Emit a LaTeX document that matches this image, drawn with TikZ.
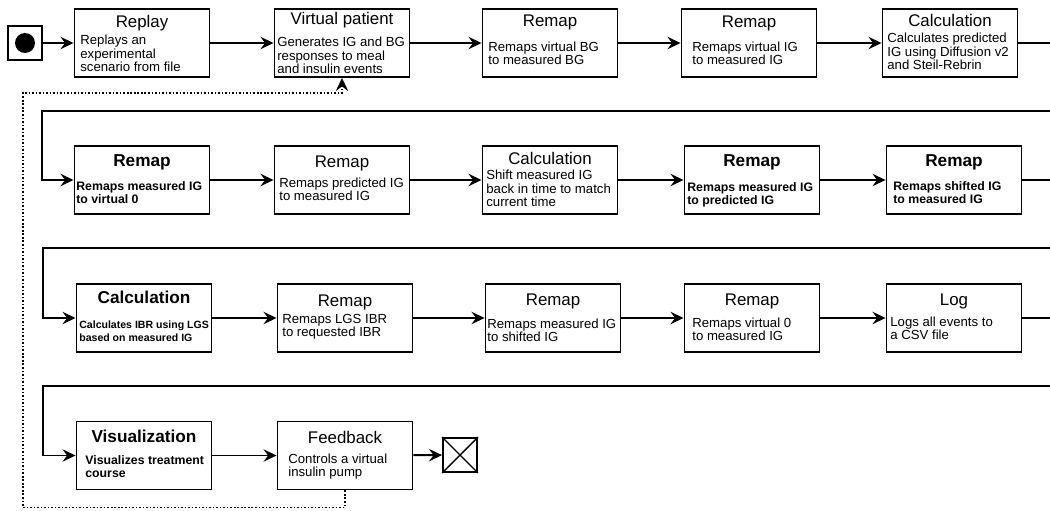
\documentclass[tikz,border=0pt]{standalone}
\usepackage{fontspec}
\setmainfont{Liberation Sans}
\usepackage{tikz}
\usetikzlibrary{arrows.meta, positioning, calc}

\begin{document}
\begin{tikzpicture}[
  x=0.02cm, y=-0.02cm,
  box/.style={draw, line width=1.1pt, minimum width=2.7cm, minimum height=1.36cm, inner sep=0pt},
  ttl/.style={anchor=base, inner sep=0pt, font=\fontsize{9.6}{11}\selectfont},
  bttl/.style={ttl, font=\bfseries\fontsize{9.8}{11}\selectfont},
  dsc/.style={anchor=west, align=left, inner sep=0pt, font=\fontsize{7.5}{7.6}\selectfont},
  bdsc/.style={dsc, font=\bfseries\fontsize{7}{7.5}\selectfont},
  flow/.style={line width=1.1pt, -{Stealth[length=7.4pt, width=7pt, inset=2.6pt]}},
  fback/.style={flow, line width=0.9pt, dash pattern=on 0.9pt off 1.1pt},
]
\useasboundingbox (0,0) rectangle (1050,510);
\clip (0,0) rectangle (1050,510);

% Start and end
\node[draw, line width=1.1pt, minimum size=0.68cm, inner sep=0pt] (start) at (25,43) {};
\node[circle, fill, minimum size=0.4cm, inner sep=0pt] (startdot) at (start.center) {};
\node[draw, line width=1.1pt, minimum size=0.68cm, inner sep=0pt] (stop) at (460,455) {};
\draw[line width=0.8pt] (stop.north west) -- (stop.south east) (stop.north east) -- (stop.south west);

% Row 1
\node[box] (b11) at (142,43) {};
\node[ttl] (t11) at (142,28) {Replay};
\node[dsc] (d11) at (80,53.5) {Replays an\\experimental\\scenario from file};
\node[box] (b12) at (342,43) {};
\node[ttl] (t12) at (342,25) {Virtual patient};
\node[dsc] (d12) at (277,55.5) {Generates IG and BG\\responses to meal\\and insulin events};
\node[box] (b13) at (550,43) {};
\node[ttl] (t13) at (550,27) {Remap};
\node[dsc] (d13) at (488,53.5) {Remaps virtual BG\\to measured BG};
\node[box] (b14) at (749,43) {};
\node[ttl] (t14) at (749,28) {Remap};
\node[dsc] (d14) at (692,53.5) {Remaps virtual IG\\to measured IG};
\node[box] (b15) at (950,43) {};
\node[ttl] (t15) at (950,27) {Calculation};
\node[dsc] (d15) at (887,51.5) {Calculates predicted\\IG using Diffusion v2\\and Steil-Rebrin};

% Row 2
\node[box] (b21) at (142,180) {};
\node[bttl] (t21) at (142,166) {Remap};
\node[bdsc] (d21) at (76,192.5) {Remaps measured IG\\to virtual 0};
\node[box] (b22) at (342,180) {};
\node[ttl] (t22) at (342,167) {Remap};
\node[dsc] (d22) at (279,189.5) {Remaps predicted IG\\to measured IG};
\node[box] (b23) at (550,180) {};
\node[ttl] (t23) at (550,164) {Calculation};
\node[dsc] (d23) at (486,188.5) {Shift measured IG\\back in time to match\\current time};
\node[box] (b24) at (752,180) {};
\node[bttl] (t24) at (752,166) {Remap};
\node[bdsc] (d24) at (687,194.5) {Remaps measured IG\\to predicted IG};
\node[box] (b25) at (954,180) {};
\node[bttl] (t25) at (954,166) {Remap};
\node[bdsc] (d25) at (893,192.5) {Remaps shifted IG\\to measured IG};

% Row 3
\node[box] (b31) at (144,318) {};
\node[bttl] (t31) at (144,303) {Calculation};
\node[bdsc, font=\bfseries\fontsize{6}{7.5}\selectfont] (d31) at (79,331) {Calculates IBR using LGS\\based on measured IG};
\node[box] (b32) at (345,318) {};
\node[ttl] (t32) at (345,306) {Remap};
\node[dsc] (d32) at (282,327) {Remaps LGS IBR\\to requested IBR};
\node[box] (b33) at (553,318) {};
\node[ttl] (t33) at (553,305) {Remap};
\node[dsc] (d33) at (487,330) {Remaps measured IG\\to shifted IG};
\node[box] (b34) at (752,318) {};
\node[ttl] (t34) at (752,305) {Remap};
\node[dsc] (d34) at (692,329.5) {Remaps virtual 0\\to measured IG};
\node[box] (b35) at (954,318) {};
\node[ttl] (t35) at (954,305) {Log};
\node[dsc] (d35) at (890,328.5) {Logs all events to\\a CSV file};

% Row 4
\node[box] (b41) at (144,455.5) {};
\node[bttl] (t41) at (144,442) {Visualization};
\node[bdsc] (d41) at (85,466.5) {Visualizes treatment\\course};
\node[box] (b42) at (345,455.5) {};
\node[ttl] (t42) at (345,443) {Feedback};
\node[dsc] (d42) at (288,466.5) {Controls a virtual\\insulin pump};

% Flow within rows
\draw[flow] (start) -- (b11);
\draw[flow] (b11) -- (b12);
\draw[flow] (b12) -- (b13);
\draw[flow] (b13) -- (b14);
\draw[flow] (b14) -- (b15);
\draw[flow] (b21) -- (b22);
\draw[flow] (b22) -- (b23);
\draw[flow] (b23) -- (b24);
\draw[flow] (b24) -- (b25);
\draw[flow] (b31) -- (b32);
\draw[flow] (b32) -- (b33);
\draw[flow] (b33) -- (b34);
\draw[flow] (b34) -- (b35);
\draw[flow] (b41) -- (b42);
\draw[flow] (b42) -- (stop);

% Wrap to next row
\draw[flow] (b15.east) -- (1060,43) |- (42,111) |- (b21.west);
\draw[flow] (b25.east) -- (1060,180) |- (43,248) |- (b31.west);
\draw[flow] (b35.east) -- (1060,318) |- (43,386) |- (b41.west);

% Feedback loop
\draw[fback] (b42.south) -- ++(0,17) -| (23,93) -| (b12.south);

\end{tikzpicture}
\end{document}
